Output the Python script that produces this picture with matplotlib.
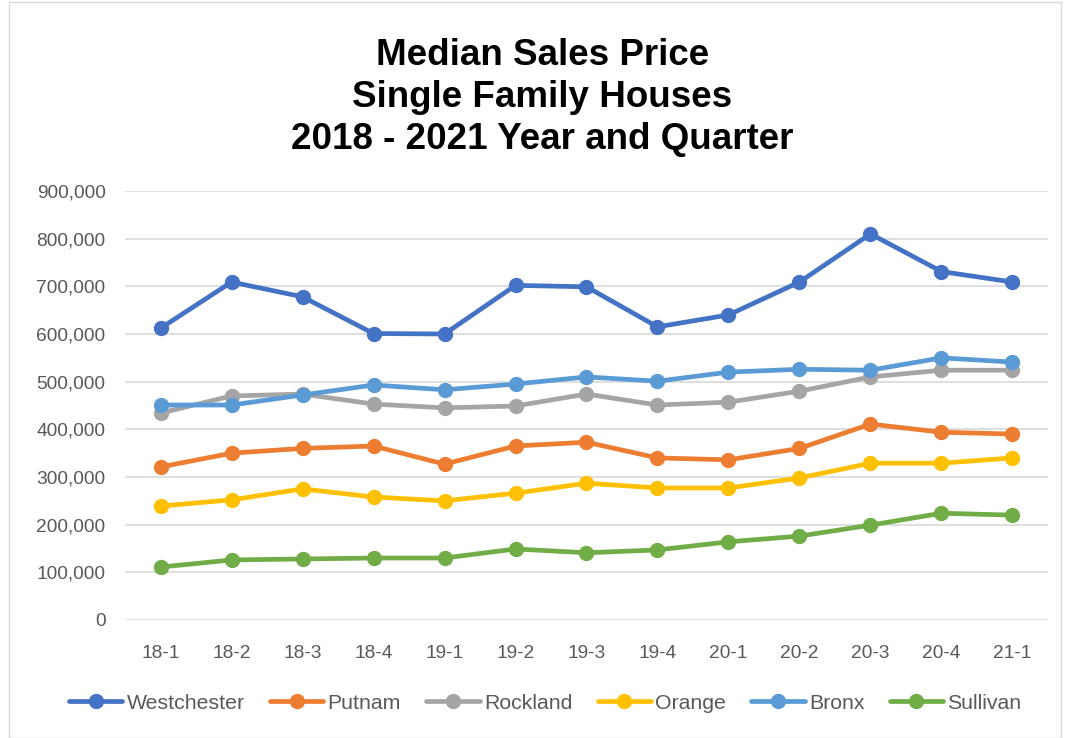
import matplotlib.pyplot as plt
from matplotlib.patches import Rectangle

quarters = ["18-1", "18-2", "18-3", "18-4", "19-1", "19-2", "19-3",
            "19-4", "20-1", "20-2", "20-3", "20-4", "21-1"]

westchester = [612000, 709000, 678000, 601000, 600000, 702000, 699000,
               615000, 640000, 709000, 810000, 731000, 709000]
putnam = [321000, 350000, 360000, 365000, 327000, 365000, 373000,
          340000, 336000, 360000, 411000, 394000, 390000]
rockland = [434000, 470000, 474000, 453000, 445000, 449000, 474000,
            451000, 457000, 480000, 510000, 524000, 524000]
orange = [239000, 252000, 275000, 258000, 250000, 266000, 287000,
          277000, 277000, 298000, 329000, 329000, 340000]
bronx = [451000, 451000, 472000, 493000, 483000, 495000, 510000,
         501000, 520000, 526000, 524000, 550000, 541000]
sullivan = [111000, 126000, 128000, 130000, 130000, 149000, 141000,
            147000, 164000, 176000, 199000, 224000, 220000]

series = [
    ("Westchester", westchester, "#4472C4"),
    ("Putnam", putnam, "#ED7D31"),
    ("Rockland", rockland, "#A5A5A5"),
    ("Orange", orange, "#FFC000"),
    ("Bronx", bronx, "#5B9BD5"),
    ("Sullivan", sullivan, "#70AD47"),
]

plt.rcParams['font.family'] = ['Liberation Sans', 'DejaVu Sans']

fig = plt.figure(figsize=(10.65, 7.38), dpi=100)
ax = fig.add_axes([0.1174, 0.1599, 0.8666, 0.5813])

x = range(len(quarters))
for name, vals, col in series:
    ax.plot(x, vals, color=col, lw=3.4, marker='o', ms=10, label=name,
            solid_capstyle='round')

ax.set_xlim(-0.5, len(quarters) - 0.5)
ax.set_ylim(0, 900000)
ax.set_yticks(range(0, 900001, 100000))
ax.yaxis.set_major_formatter(plt.FuncFormatter(lambda v, p: f"{int(v):,}"))
ax.set_xticks(list(x))
ax.set_xticklabels(quarters)
ax.grid(axis='y', color='#D9D9D9', lw=1.2)
ax.set_axisbelow(True)
for s in ax.spines.values():
    s.set_visible(False)
ax.tick_params(length=0, labelsize=13.8, colors='#595959')
ax.tick_params(axis='x', pad=18)
ax.tick_params(axis='y', pad=14)

fig.text(0.509, 0.787, "Median Sales Price\nSingle Family Houses\n2018 - 2021 Year and Quarter",
         ha='center', va='bottom', fontsize=26.5, fontweight='bold',
         linespacing=1.27)

fig.legend(loc='center', bbox_to_anchor=(0.512, 0.047), ncol=6,
           frameon=False, fontsize=15.3, labelcolor='#595959',
           handlelength=2.5, handletextpad=0.2, columnspacing=1.2)

fig.patches.append(Rectangle((0.008, 0.0), 0.988, 0.997, transform=fig.transFigure,
                             fill=False, ec='#D9D9D9', lw=1))

fig.savefig("out.png", dpi=100)
